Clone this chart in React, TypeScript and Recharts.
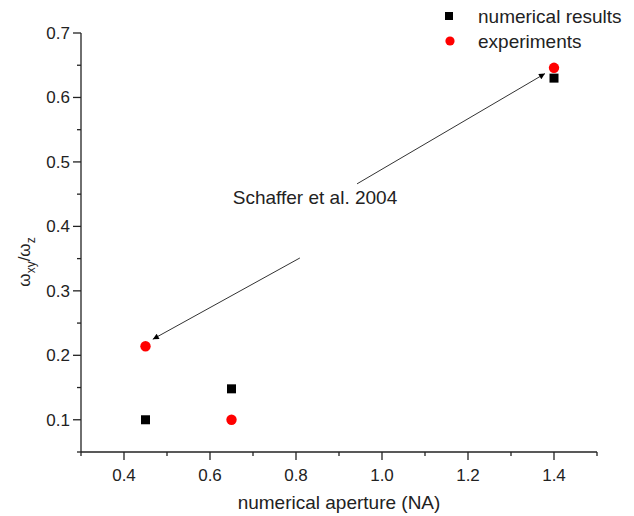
import React from 'react'
import { ScatterChart, Scatter, XAxis, YAxis, ReferenceLine, ReferenceDot, Legend } from 'recharts'

const FONT = '"Liberation Sans", Arial, sans-serif'

// series
const numerical = [
  { x: 0.45, y: 0.1 },
  { x: 0.65, y: 0.148 },
  { x: 1.4, y: 0.63 },
]
const experiments = [
  { x: 0.45, y: 0.214 },
  { x: 0.65, y: 0.1 },
  { x: 1.4, y: 0.646 },
]

// ticks
const xTicks = [0.3, 0.4, 0.5, 0.6, 0.7, 0.8, 0.9, 1.0, 1.1, 1.2, 1.3, 1.4, 1.5]
const xMajor = [0.4, 0.6, 0.8, 1.0, 1.2, 1.4]
const xTickLabels = ['0.4', '0.6', '0.8', '1.0', '1.2', '1.4']
const yTicks = [0.05, 0.1, 0.15, 0.2, 0.25, 0.3, 0.35, 0.4, 0.45, 0.5, 0.55, 0.6, 0.65, 0.7]
const yMajor = [0.1, 0.2, 0.3, 0.4, 0.5, 0.6, 0.7]
const yTickLabels = ['0.1', '0.2', '0.3', '0.4', '0.5', '0.6', '0.7']

// annotation
const noteText = 'Schaffer et al. 2004'
const notePos = { x: 0.653, y: 0.435 }
const arrowUp = [{ x: 0.942, y: 0.466 }, { x: 1.379, y: 0.637 }]
const arrowDown = [{ x: 0.809, y: 0.351 }, { x: 0.467, y: 0.225 }]

const legendItems = [
  { name: 'numerical results', color: '#000', kind: 'square' },
  { name: 'experiments', color: '#f00', kind: 'circle' },
]

const XTick = (props: any) => {
  const { x, y, payload } = props
  const i = xMajor.indexOf(payload.value)
  return (
    <g>
      <line x1={x} y1={y} x2={x} y2={y + (i >= 0 ? 8 : 4)} stroke="#222" strokeWidth={1.3} />
      {i >= 0 && (
        <text x={x} y={y + 29} textAnchor="middle" fontSize={17} fontFamily={FONT} fill="#222">
          {xTickLabels[i]}
        </text>
      )}
    </g>
  )
}

const YTick = (props: any) => {
  const { x, y, payload } = props
  const i = yMajor.indexOf(payload.value)
  return (
    <g>
      <line x1={x} y1={y} x2={x - (i >= 0 ? 8 : 4)} y2={y} stroke="#222" strokeWidth={1.3} />
      {i >= 0 && (
        <text x={x - 11} y={y} dy="0.35em" textAnchor="end" fontSize={17} fontFamily={FONT} fill="#222">
          {yTickLabels[i]}
        </text>
      )}
    </g>
  )
}

const YLabel = () => (
  <text
    x={30}
    y={262}
    transform="rotate(-90 30 262)"
    textAnchor="middle"
    fontSize={17}
    fontFamily={FONT}
    fill="#222"
  >
    <tspan>ω</tspan>
    <tspan dy={5} fontSize={12}>xy</tspan>
    <tspan dy={-5}>/ω</tspan>
    <tspan dy={5} fontSize={12}>z</tspan>
  </text>
)

const Square = (props: any) => (
  <rect x={props.cx - 4.5} y={props.cy - 4.5} width={9} height={9} fill="#000" />
)
const Dot = (props: any) => <circle cx={props.cx} cy={props.cy} r={5.2} fill="#f00" />

const Arrow = (id: string) => (props: any) => (
  <g>
    <defs>
      <marker id={id} viewBox="0 0 10 10" refX="10" refY="5" markerWidth="11" markerHeight="6" markerUnits="userSpaceOnUse" orient="auto">
        <path d="M0,0 L10,5 L0,10 z" fill="#000" />
      </marker>
    </defs>
    <line x1={props.x1} y1={props.y1} x2={props.x2} y2={props.y2} stroke="#333" strokeWidth={1} markerEnd={`url(#${id})`} />
  </g>
)

const LegendBox = () => (
  <svg width={194} height={52}>
    {legendItems.map((it, i) => (
      <g key={it.name}>
        {it.kind === 'square' ? (
          <rect x={5} y={12 + i * 25} width={8} height={8} fill={it.color} />
        ) : (
          <circle cx={10} cy={16 + i * 25} r={4.6} fill={it.color} />
        )}
        <text x={38} y={23 + i * 25} fontSize={19} fontFamily={FONT} fill="#222">
          {it.name}
        </text>
      </g>
    ))}
  </svg>
)

export default function App() {
  return (
    <div style={{ position: 'absolute', left: 0, top: 0, background: '#fff' }}>
      <ScatterChart width={634} height={516} margin={{ top: 33, right: 37, bottom: 10, left: 11 }}>
        <XAxis
          type="number"
          dataKey="x"
          domain={[0.3, 1.5]}
          ticks={xTicks}
          tick={<XTick />}
          tickLine={false}
          tickSize={0}
          tickMargin={0}
          height={54}
          axisLine={{ stroke: '#222', strokeWidth: 1.3 }}
          allowDataOverflow
          interval={0}
          label={{ value: 'numerical aperture (NA)', position: 'insideBottom', offset: -3, fontSize: 19, fontFamily: FONT, fill: '#222' }}
        />
        <YAxis
          type="number"
          dataKey="y"
          domain={[0.05, 0.7]}
          ticks={yTicks}
          tick={<YTick />}
          tickLine={false}
          tickSize={0}
          tickMargin={0}
          width={70}
          axisLine={{ stroke: '#222', strokeWidth: 1.3 }}
          allowDataOverflow
          interval={0}
          label={<YLabel />}
        />
        <Legend
          layout="horizontal"
          verticalAlign="middle"
          align="center"
          content={() => <LegendBox />}
          wrapperStyle={{ position: 'absolute', top: 0, left: 440, width: 194, height: 52 }}
        />
        <ReferenceLine segment={arrowUp} shape={Arrow('arrowA')} />
        <ReferenceLine segment={arrowDown} shape={Arrow('arrowB')} />
        <ReferenceDot
          x={notePos.x}
          y={notePos.y}
          r={0}
          shape={(p: any) => (
            <text x={p.cx} y={p.cy} fontSize={19} fontFamily={FONT} fill="#222">
              {noteText}
            </text>
          )}
        />
        <Scatter name="numerical results" data={numerical} shape={Square} isAnimationActive={false} />
        <Scatter name="experiments" data={experiments} shape={Dot} isAnimationActive={false} />
      </ScatterChart>
    </div>
  )
}
